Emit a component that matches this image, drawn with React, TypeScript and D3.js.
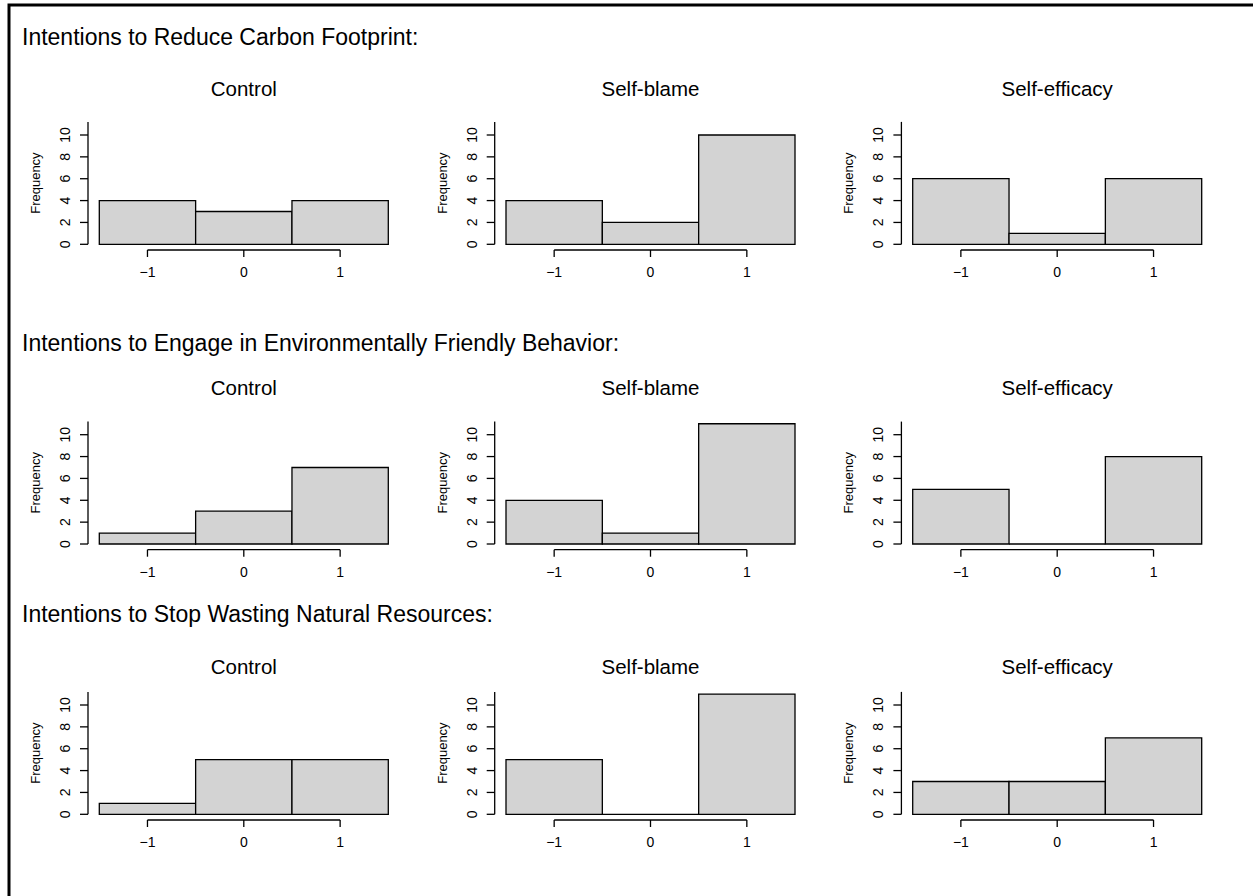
import React from "react";
import * as d3 from "d3";

// section headings and groups
const sections = [
  "Intentions to Reduce Carbon Footprint:",
  "Intentions to Engage in Environmentally Friendly Behavior:",
  "Intentions to Stop Wasting Natural Resources:",
];
const groups = ["Control", "Self-blame", "Self-efficacy"];

// counts per bin (-1, 0, 1) for each group
const carbonCounts = [
  [4, 3, 4],
  [4, 2, 10],
  [6, 1, 6],
];
const behaviorCounts = [
  [1, 3, 7],
  [4, 1, 11],
  [5, 0, 8],
];
const wastingCounts = [
  [1, 5, 5],
  [5, 0, 11],
  [3, 3, 7],
];
const allCounts = [carbonCounts, behaviorCounts, wastingCounts];

const binMids = [-1, 0, 1];
const xTicks = [-1, 0, 1];
const yTicks = [0, 2, 4, 6, 8, 10];

const W = 1253;
const H = 896;
const font = "'Liberation Sans', Arial, Helvetica, sans-serif";

// layout per row
const rowLayout = [
  { head: 45, title: 96, zero: 244.3 },
  { head: 351, title: 395, zero: 544 },
  { head: 622, title: 674, zero: 814.3 },
];
const colLeft = [99.3, 506, 912.7];
const plotW = 289;
const pxPerUnit = 10.93;
const yTop = 11.2;

const fmt = (v: number) => (v < 0 ? "\u2212" + Math.abs(v) : String(v));

function Panel({ counts, title, left, row }: { counts: number[]; title: string; left: number; row: typeof rowLayout[0] }) {
  const x = d3.scaleLinear().domain([-1.5, 1.5]).range([left, left + plotW]);
  const y = d3.scaleLinear().domain([0, 10]).range([row.zero, row.zero - 10 * pxPerUnit]);
  const axisX = left - 11.3;
  const xAxisY = row.zero + 5.7;
  const midY = (y(0) + y(yTop)) / 2;
  return (
    <g>
      <text x={x(0)} y={row.title} textAnchor="middle" fontSize={20.5} fontFamily={font}>
        {title}
      </text>
      {counts.map((c, i) => {
        // path so that an empty bin still shows as a line on the baseline
        const x0 = x(binMids[i] - 0.5);
        const x1 = x(binMids[i] + 0.5);
        const p = d3.path();
        p.moveTo(x0, y(0));
        p.lineTo(x0, y(c));
        p.lineTo(x1, y(c));
        p.lineTo(x1, y(0));
        p.closePath();
        return <path key={i} d={p.toString()} fill="#d3d3d3" stroke="#000" strokeWidth={1.3} />;
      })}
      {/* y axis */}
      <line x1={axisX} x2={axisX} y1={y(0)} y2={y(yTop)} stroke="#000" strokeWidth={1.3} />
      {yTicks.map((t) => (
        <g key={t}>
          <line x1={axisX - 8} x2={axisX} y1={y(t)} y2={y(t)} stroke="#000" strokeWidth={1.3} />
          <text
            transform={`translate(${axisX - 18},${y(t)}) rotate(-90)`}
            textAnchor="middle"
            fontSize={14}
            fontFamily={font}
          >
            {t}
          </text>
        </g>
      ))}
      <text
        transform={`translate(${axisX - 48},${midY}) rotate(-90)`}
        textAnchor="middle"
        fontSize={13}
        fontFamily={font}
      >
        Frequency
      </text>
      {/* x axis */}
      <line x1={x(xTicks[0])} x2={x(xTicks[xTicks.length - 1])} y1={xAxisY} y2={xAxisY} stroke="#000" strokeWidth={1.3} />
      {xTicks.map((t) => (
        <g key={t}>
          <line x1={x(t)} x2={x(t)} y1={xAxisY} y2={xAxisY + 7} stroke="#000" strokeWidth={1.3} />
          <text x={x(t)} y={row.zero + 33} textAnchor="middle" fontSize={14} fontFamily={font}>
            {fmt(t)}
          </text>
        </g>
      ))}
    </g>
  );
}

export default function App() {
  return (
    <svg width={W} height={H} style={{ position: "absolute", left: 0, top: 0, background: "#fff" }}>
      <rect x={0} y={0} width={W} height={H} fill="#fff" />
      <rect x={9} y={5} width={W + 20} height={H + 20} fill="none" stroke="#000" strokeWidth={3} />
      {sections.map((s, r) => (
        <g key={s}>
          <text x={22} y={rowLayout[r].head} fontSize={23} fontFamily={font}>
            {s}
          </text>
          {groups.map((g, c) => (
            <Panel key={g} counts={allCounts[r][c]} title={g} left={colLeft[c]} row={rowLayout[r]} />
          ))}
        </g>
      ))}
    </svg>
  );
}
